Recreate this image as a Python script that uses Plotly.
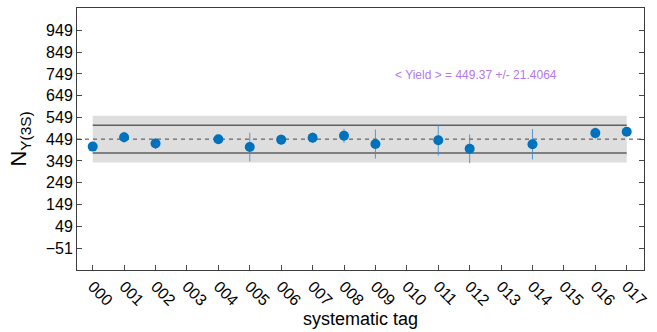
import plotly.graph_objects as go

all_tags = ["000", "001", "002", "003", "004", "005", "006", "007", "008",
            "009", "010", "011", "012", "013", "014", "015", "016", "017"]
tags = ["000", "001", "002", "004", "005", "006", "007", "008", "009",
        "011", "012", "014", "016", "017"]
yields = [415, 458, 429, 449, 413, 447, 456, 465, 427, 444, 405, 426, 477, 483]
errors = [15, 25, 25, 22, 66, 24, 24, 32, 67, 70, 66, 70, 26, 18]
ytick_vals = [-51, 49, 149, 249, 349, 449, 549, 649, 749, 849, 949]
mean_yield = 449.37
sigma = 21.4064

xpos = [all_tags.index(t) for t in tags]
x_first, x_last = 0, len(all_tags) - 1

fig = go.Figure()
# mean line (dashed) drawn as a trace so it sits above the band
fig.add_trace(go.Scatter(
    x=[-0.5, 17.55], y=[mean_yield, mean_yield], mode="lines",
    line=dict(color="rgb(70,70,70)", width=1, dash="4px,4px"),
    hoverinfo="skip", showlegend=False,
))
fig.add_trace(go.Scatter(
    x=xpos, y=yields, mode="markers",
    marker=dict(color="rgb(0,114,189)", size=10, symbol="circle"),
    error_y=dict(type="data", array=errors, visible=True,
                 color="rgba(60,140,205,0.85)", thickness=1, width=0),
    showlegend=False,
))

shapes = [
    dict(type="rect", xref="x", yref="y", x0=x_first, x1=x_last,
         y0=mean_yield - 5 * sigma, y1=mean_yield + 5 * sigma,
         fillcolor="rgb(222,222,222)", line=dict(width=0), layer="below"),
    dict(type="line", xref="x", yref="y", x0=x_first, x1=x_last,
         y0=mean_yield + 3 * sigma, y1=mean_yield + 3 * sigma,
         line=dict(color="rgb(95,95,95)", width=1.5), layer="below"),
    dict(type="line", xref="x", yref="y", x0=x_first, x1=x_last,
         y0=mean_yield - 3 * sigma, y1=mean_yield - 3 * sigma,
         line=dict(color="rgb(95,95,95)", width=1.5), layer="below"),
]

fig.update_layout(
    width=657, height=332,
    margin=dict(l=77, r=7, t=8, b=62),
    paper_bgcolor="white", plot_bgcolor="white",
    font=dict(family="Liberation Sans, Arial, sans-serif", color="black"),
    shapes=shapes,
    annotations=[dict(
        x=12.19, y=745, xref="x", yref="y", showarrow=False,
        text="< Yield > = %.2f +/- %.4f" % (mean_yield, sigma),
        font=dict(size=12, color="rgb(180,120,235)"),
    )],
    xaxis=dict(
        range=[-0.5, 17.55], tickmode="array",
        tickvals=list(range(len(all_tags))), ticktext=all_tags,
        tickangle=45, tickfont=dict(size=16),
        ticks="inside", ticklen=5, tickcolor="rgb(70,70,70)",
        showline=True, linecolor="rgb(60,60,60)", linewidth=1, mirror=True,
        showgrid=False, zeroline=False,
        title=dict(text="systematic tag", font=dict(size=18), standoff=2),
    ),
    yaxis=dict(
        range=[-152, 1052], tickmode="array", tickvals=ytick_vals,
        tickfont=dict(size=16),
        ticks="inside", ticklen=5, tickcolor="rgb(70,70,70)",
        showline=True, linecolor="rgb(60,60,60)", linewidth=1, mirror="ticks",
        showgrid=False, zeroline=False,
        title=dict(text="N<sub>Υ(3S)</sub>", font=dict(size=22), standoff=12),
    ),
)

fig.write_html("out.html")
